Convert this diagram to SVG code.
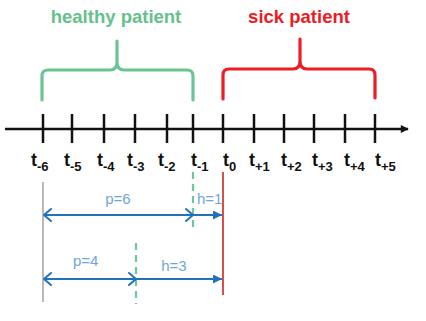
<svg xmlns="http://www.w3.org/2000/svg" width="426" height="321" viewBox="0 0 426 321">
<defs>
<style>
.title{font-family:"Liberation Sans",Arial,sans-serif;font-weight:bold;font-size:18.5px;text-anchor:middle}
.t{font-family:"Liberation Sans",Arial,sans-serif;font-weight:bold;font-size:18px;fill:#111}
.sub{font-size:13px}
.lbl{font-family:"Liberation Sans",Arial,sans-serif;font-size:15px;fill:#72a6d6}
.tick{stroke:#111;stroke-width:2.5}
.brace{fill:none;stroke-width:3.2;stroke-linecap:round;stroke-linejoin:round}
.arr{stroke:#2272b9;stroke-width:2;fill:none}
.open{stroke:#2272b9;stroke-width:2;fill:none;stroke-linecap:round;stroke-linejoin:round}
.dash{stroke:#6cc79a;stroke-width:2.2;stroke-dasharray:7 5}
</style>
<marker id="ax" viewBox="0 0 10 10" refX="9" refY="5" markerWidth="10" markerHeight="8" markerUnits="userSpaceOnUse" orient="auto"><path d="M0,0 L10,5 L0,10 Z" fill="#111"/></marker>
<marker id="fill" viewBox="0 0 10 10" refX="10" refY="5" markerWidth="9" markerHeight="9" markerUnits="userSpaceOnUse" orient="auto"><path d="M0,0 L10,5 L0,10 Z" fill="#2272b9"/></marker>
</defs>
<rect width="426" height="321" fill="#fff"/>

<g id="healthy">
<text class="title" x="116" y="23" fill="#66c08c">healthy patient</text>
<path class="brace" stroke="#6cc394" d="M42,100 L42,76 Q42,70 48,70 L110,70 Q117,70 117,62 L117,41 M117,62 Q117,70 124,70 L187,70 Q193,70 193,76 L193,100"/>
</g>
<g id="sick">
<text class="title" x="299" y="23" fill="#ec1b23">sick patient</text>
<path class="brace" stroke="#ee1c25" d="M223,99 L223,75 Q223,69 229,69 L293,69 Q300,69 300,61 L300,39 M300,61 Q300,69 307,69 L369,69 Q375,69 375,75 L375,98"/>
</g>

<g id="axis">
<line x1="5" y1="129" x2="408" y2="129" stroke="#111" stroke-width="2.5" marker-end="url(#ax)"/>
<line class="tick" x1="43" y1="114" x2="43" y2="143"/>
<line class="tick" x1="72" y1="114" x2="72" y2="143"/>
<line class="tick" x1="104" y1="114" x2="104" y2="143"/>
<line class="tick" x1="135" y1="114" x2="135" y2="143"/>
<line class="tick" x1="167" y1="114" x2="167" y2="143"/>
<line class="tick" x1="193" y1="114" x2="193" y2="143"/>
<line class="tick" x1="223" y1="114" x2="223" y2="143"/>
<line class="tick" x1="254" y1="114" x2="254" y2="143"/>
<line class="tick" x1="284" y1="114" x2="284" y2="143"/>
<line class="tick" x1="314" y1="114" x2="314" y2="143"/>
<line class="tick" x1="345" y1="114" x2="345" y2="143"/>
<line class="tick" x1="375" y1="114" x2="375" y2="143"/>
</g>

<g id="labels">
<text class="t" x="31" y="166">t<tspan class="sub" dy="5">-6</tspan></text>
<text class="t" x="64" y="166">t<tspan class="sub" dy="5">-5</tspan></text>
<text class="t" x="97" y="166">t<tspan class="sub" dy="5">-4</tspan></text>
<text class="t" x="127" y="166">t<tspan class="sub" dy="5">-3</tspan></text>
<text class="t" x="158" y="166">t<tspan class="sub" dy="5">-2</tspan></text>
<text class="t" x="191" y="166">t<tspan class="sub" dy="5">-1</tspan></text>
<text class="t" x="223" y="166">t<tspan class="sub" dy="5">0</tspan></text>
<text class="t" x="249" y="166">t<tspan class="sub" dy="5">+1</tspan></text>
<text class="t" x="281" y="166">t<tspan class="sub" dy="5">+2</tspan></text>
<text class="t" x="312" y="166">t<tspan class="sub" dy="5">+3</tspan></text>
<text class="t" x="344" y="166">t<tspan class="sub" dy="5">+4</tspan></text>
<text class="t" x="375" y="166">t<tspan class="sub" dy="5">+5</tspan></text>
</g>

<g id="markers">
<line x1="43" y1="182" x2="43" y2="302" stroke="#a9a9a9" stroke-width="1.6"/>
<line x1="223" y1="172" x2="223" y2="295" stroke="#d6504c" stroke-width="2"/>
<line class="dash" x1="193" y1="172" x2="193" y2="231"/>
<line class="dash" x1="136" y1="243" x2="136" y2="304"/>
</g>

<g id="connectors">
<line class="arr" x1="44" y1="215" x2="193" y2="215"/>
<path class="open" d="M51,209 L44,215 L51,221"/>
<path class="open" d="M186,209 L193,215 L186,221"/>
<line class="arr" x1="193" y1="215" x2="222" y2="215" marker-end="url(#fill)"/>
<line class="arr" x1="44" y1="279" x2="136" y2="279"/>
<path class="open" d="M51,273 L44,279 L51,285"/>
<path class="open" d="M129,273 L136,279 L129,285"/>
<line class="arr" x1="136" y1="279" x2="222" y2="279" marker-end="url(#fill)"/>
</g>

<g id="ann">
<text class="lbl" x="118" y="204" text-anchor="middle">p=6</text>
<text class="lbl" x="197" y="204">h=1</text>
<text class="lbl" x="73" y="266">p=4</text>
<text class="lbl" x="174" y="271" text-anchor="middle">h=3</text>
</g>
</svg>
